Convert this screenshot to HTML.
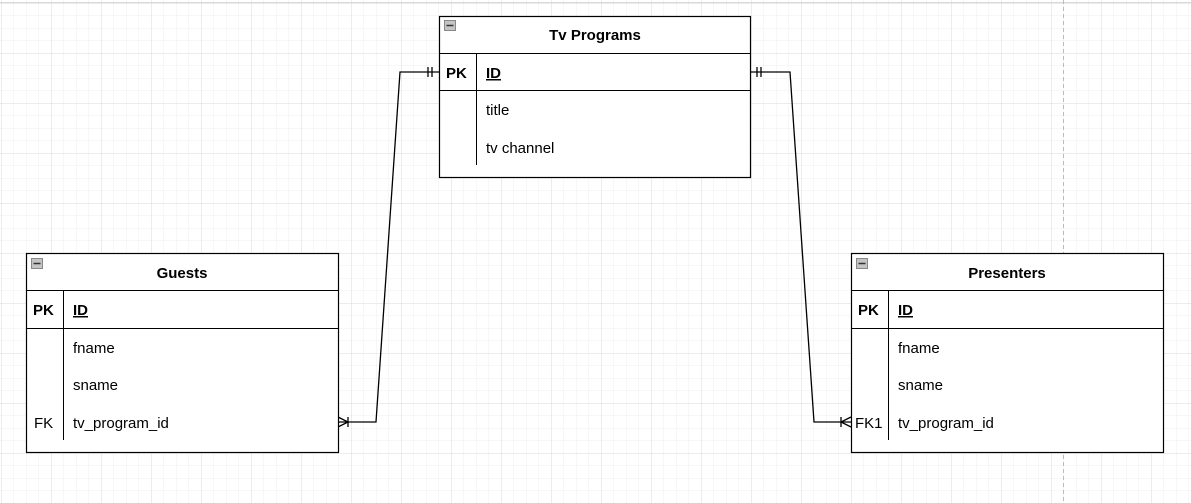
<!DOCTYPE html>
<html><head><style>
html,body{margin:0;padding:0;background:#fff;}
svg{display:block;}
text{font-family:"Liberation Sans",Arial,sans-serif;font-size:15px;fill:#000;}
.b{font-weight:bold;}
</style></head><body>
<svg width="1191" height="503" viewBox="0 0 1191 503" xmlns="http://www.w3.org/2000/svg">
<defs>
<pattern id="mn" x="1" y="3" width="12.5" height="12.5" patternUnits="userSpaceOnUse">
<path d="M0 0H12.5M0 0V12.5" stroke="#efefef" stroke-width="1" fill="none"/>
</pattern>
<pattern id="mj" x="1" y="3" width="50" height="50" patternUnits="userSpaceOnUse">
<path d="M0 0H50M0 0V50" stroke="#d9d9d9" stroke-width="1" fill="none"/>
</pattern>
</defs>
<rect width="1191" height="503" fill="#fff"/>
<rect width="1191" height="503" fill="url(#mn)"/>
<rect width="1191" height="503" fill="url(#mj)"/>
<line x1="0" y1="2.5" x2="1191" y2="2.5" stroke="#d9d9d9"/>
<line x1="1063.5" y1="0" x2="1063.5" y2="503" stroke="#bbb" stroke-dasharray="4,3"/>

<g stroke="#000" stroke-width="1.3" fill="none">
<polyline points="338,422 376,422 400,72 439,72"/>
<line x1="428" y1="67" x2="428" y2="77"/><line x1="432" y1="67" x2="432" y2="77"/>
<line x1="348" y1="417" x2="348" y2="427"/>
<polyline points="338,417 348,422 338,427"/>
<polyline points="750,72 790,72 814,422 851,422"/>
<line x1="757" y1="67" x2="757" y2="77"/><line x1="761" y1="67" x2="761" y2="77"/>
<line x1="841" y1="417" x2="841" y2="427"/>
<polyline points="851,417 841,422 851,427"/>
</g>

<g>
<rect x="439.5" y="16.5" width="311" height="161" fill="#fff" stroke="#000" stroke-width="1.2"/>
<line x1="439" y1="53.5" x2="751" y2="53.5" stroke="#000"/>
<line x1="439" y1="90.5" x2="751" y2="90.5" stroke="#000"/>
<line x1="476.5" y1="53" x2="476.5" y2="165" stroke="#000"/>
<rect x="444.5" y="20.5" width="11" height="10" fill="#c4c4c4" stroke="#888"/><line x1="446.5" y1="25.5" x2="453.5" y2="25.5" stroke="#333" stroke-width="1.5"/>
<text x="595" y="40" text-anchor="middle" class="b">Tv Programs</text>
<text x="446" y="78" class="b">PK</text>
<text x="486" y="78" class="b" text-decoration="underline">ID</text>
<text x="486" y="115">title</text>
<text x="486" y="153">tv channel</text>
</g>

<g>
<rect x="26.5" y="253.5" width="312" height="199" fill="#fff" stroke="#000" stroke-width="1.2"/>
<line x1="26" y1="290.5" x2="339" y2="290.5" stroke="#000"/>
<line x1="26" y1="328.5" x2="339" y2="328.5" stroke="#000"/>
<line x1="63.5" y1="290" x2="63.5" y2="440" stroke="#000"/>
<rect x="31.5" y="258.5" width="11" height="10" fill="#c4c4c4" stroke="#888"/><line x1="33.5" y1="263.5" x2="40.5" y2="263.5" stroke="#333" stroke-width="1.5"/>
<text x="182" y="278" text-anchor="middle" class="b">Guests</text>
<text x="33" y="315" class="b">PK</text>
<text x="73" y="315" class="b" text-decoration="underline">ID</text>
<text x="73" y="353">fname</text>
<text x="73" y="390">sname</text>
<text x="34" y="428">FK</text>
<text x="73" y="428">tv_program_id</text>
</g>

<g>
<rect x="851.5" y="253.5" width="312" height="199" fill="#fff" stroke="#000" stroke-width="1.2"/>
<line x1="851" y1="290.5" x2="1164" y2="290.5" stroke="#000"/>
<line x1="851" y1="328.5" x2="1164" y2="328.5" stroke="#000"/>
<line x1="888.5" y1="290" x2="888.5" y2="440" stroke="#000"/>
<rect x="856.5" y="258.5" width="11" height="10" fill="#c4c4c4" stroke="#888"/><line x1="858.5" y1="263.5" x2="865.5" y2="263.5" stroke="#333" stroke-width="1.5"/>
<text x="1007" y="278" text-anchor="middle" class="b">Presenters</text>
<text x="858" y="315" class="b">PK</text>
<text x="898" y="315" class="b" text-decoration="underline">ID</text>
<text x="898" y="353">fname</text>
<text x="898" y="390">sname</text>
<text x="855" y="428">FK1</text>
<text x="898" y="428">tv_program_id</text>
</g>
</svg>
</body></html>
